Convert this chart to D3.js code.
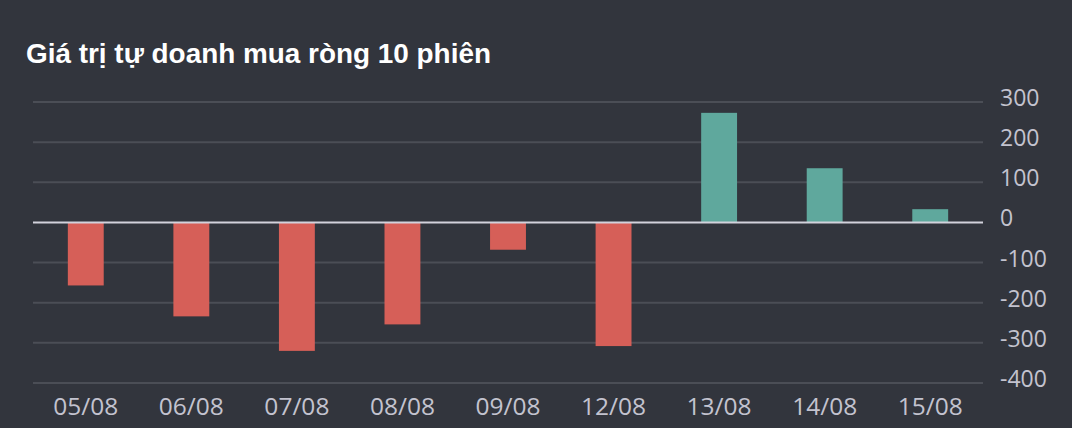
<!DOCTYPE html>
<html lang="vi">
<head>
<meta charset="UTF-8">
<title>Giá trị tự doanh mua ròng 10 phiên</title>
<script src="https://d3js.org/d3.v7.min.js"></script>
<style>
    body { margin: 0; background: #32353d; }
    svg { display: block; }
</style>
</head>
<body>
<div id="chart"></div>
<script>
    // Data
    const dates = ["05/08", "06/08", "07/08", "08/08", "09/08", "12/08", "13/08", "14/08", "15/08"];
    const values = [-157, -234, -320, -254, -68, -308, 273, 135, 33];
    const yTicks = [300, 200, 100, 0, -100, -200, -300, -400];

    const width = 1072, height = 428;
    const margin = { top: 102, right: 89, bottom: 45, left: 33 };

    const svg = d3.select("#chart").append("svg")
        .attr("width", width)
        .attr("height", height);

    svg.append("rect")
        .attr("width", width).attr("height", height)
        .attr("fill", "#32353d");

    // Title
    svg.append("text")
        .attr("x", 26).attr("y", 63)
        .attr("fill", "#ffffff")
        .style("font-family", "'Liberation Sans', Arial, sans-serif")
        .style("font-weight", "bold")
        .style("font-size", "27.9px")
        .text("Giá trị tự doanh mua ròng 10 phiên");

    const x = d3.scaleBand()
        .domain(dates)
        .range([margin.left, width - margin.right])
        .paddingInner(0.66)
        .paddingOuter(0.33);

    const y = d3.scaleLinear()
        .domain([-400, 300])
        .range([height - margin.bottom, margin.top]);

    // Grid lines
    svg.append("g")
        .selectAll("line")
        .data(yTicks.filter(d => d !== 0))
        .join("line")
        .attr("x1", margin.left).attr("x2", width - margin.right)
        .attr("y1", d => y(d)).attr("y2", d => y(d))
        .attr("stroke", "#4b4e56")
        .attr("stroke-width", 2);

    // Bars
    svg.append("g")
        .selectAll("rect")
        .data(values)
        .join("rect")
        .attr("x", (d, i) => x(dates[i]))
        .attr("width", x.bandwidth())
        .attr("y", d => y(Math.max(0, d)))
        .attr("height", d => Math.abs(y(d) - y(0)))
        .attr("fill", d => d < 0 ? "#d65f58" : "#5fa89d");

    // Zero line
    svg.append("line")
        .attr("x1", margin.left).attr("x2", width - margin.right)
        .attr("y1", y(0)).attr("y2", y(0))
        .attr("stroke", "#d2d2dc")
        .attr("stroke-width", 2);

    // Y axis on the right
    const yAxis = svg.append("g")
        .attr("transform", `translate(${width - margin.right + 17},0)`)
        .call(d3.axisRight(y).tickValues(yTicks).tickSize(0).tickPadding(0)
            .tickFormat(d => String(d)));
    yAxis.select(".domain").remove();
    yAxis.selectAll("text")
        .attr("dy", "0.15em")
        .attr("fill", "#c3c3cf")
        .style("font-family", "'Open Sans', sans-serif")
        .style("font-size", "23px");

    // X axis
    const xAxis = svg.append("g")
        .attr("transform", `translate(0,${height - margin.bottom})`)
        .call(d3.axisBottom(x).tickSize(0).tickPadding(15));
    xAxis.select(".domain").remove();
    xAxis.selectAll("text")
        .attr("fill", "#c3c3cf")
        .style("font-family", "'Open Sans', sans-serif")
        .style("font-size", "24.5px");
</script>
</body>
</html>
